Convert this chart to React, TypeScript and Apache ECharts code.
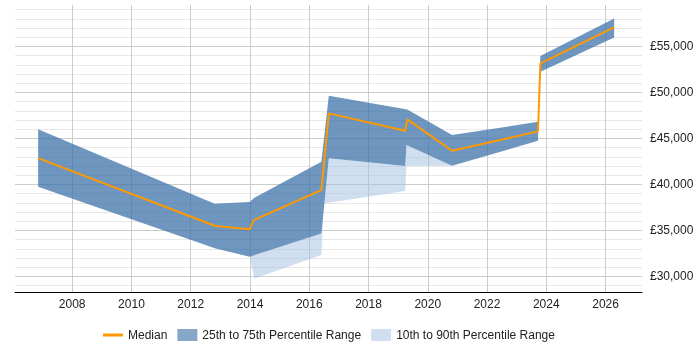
import React, { useEffect, useRef } from "react";
import * as echarts from "echarts";

// Median salary, [year, £]
const median: [number, number][] = [
  [2006.85, 42860],
  [2012.83, 35470],
  [2013.99, 35110],
  [2014.13, 36120],
  [2016.41, 39380],
  [2016.66, 47720],
  [2019.24, 45830],
  [2019.31, 47070],
  [2020.82, 43650],
  [2023.72, 45760],
  [2023.8, 53150],
  [2026.29, 57070],
];

// 75th percentile (upper edge of the dark band)
const p75: [number, number][] = [
  [2006.85, 45980],
  [2012.81, 37890],
  [2013.99, 38080],
  [2014.15, 38540],
  [2016.41, 42460],
  [2016.66, 49630],
  [2019.31, 48150],
  [2020.82, 45360],
  [2023.72, 46800],
  [2023.8, 53950],
  [2026.29, 58040],
];

// 25th percentile (lower edge of the dark band)
const p25: [number, number][] = [
  [2006.85, 39740],
  [2012.84, 33040],
  [2013.99, 32130],
  [2016.41, 34670],
  [2016.66, 42830],
  [2019.24, 41990],
  [2019.28, 44270],
  [2020.82, 42020],
  [2023.72, 44740],
  [2023.8, 52240],
  [2026.29, 55980],
];

// 10th percentile (lower edge of the light band)
const p10: [number, number][] = [
  [2006.85, 39740],
  [2012.84, 33040],
  [2013.99, 32130],
  [2014.15, 29780],
  [2016.41, 32320],
  [2016.49, 37930],
  [2019.24, 39290],
  [2019.28, 41990],
  [2020.82, 42020],
  [2023.72, 44740],
  [2023.8, 52240],
  [2026.29, 55980],
];

const xRange = [2006.07, 2027.23];
const yRange = [28300, 59500];

const FONT = "'Liberation Sans', Arial, sans-serif";
const DARK_FILL = "rgba(62,115,170,0.75)";
const LIGHT_FILL = "rgba(160,192,226,0.5)";
// thin horizontal bar inside a 20x12 box, used as the median's legend key
const LINE_ICON = "path://M0,0L0,0M0,4.5H20V7.5H0ZM20,12L20,12";

function formatPounds(v: number): string {
  return "£" + String(Math.round(v)).replace(/\B(?=(\d{3})+(?!\d))/g, ",");
}

function band(name: string, upper: [number, number][], lower: [number, number][], fill: string, legendColor: string, z: number) {
  return {
    name,
    type: "custom",
    xAxisIndex: 0,
    yAxisIndex: 1,
    z,
    itemStyle: { color: legendColor },
    data: [upper[0]],
    renderItem: (_params: any, api: any) => {
      const pts = [
        ...upper.map((p) => api.coord(p)),
        ...lower
          .slice()
          .reverse()
          .map((p) => api.coord(p)),
      ];
      return {
        type: "polygon",
        shape: { points: pts },
        style: { fill },
      };
    },
  };
}

export default function App() {
  const ref = useRef<HTMLDivElement>(null);

  useEffect(() => {
    if (!ref.current) return;
    const chart = echarts.init(ref.current, undefined, { renderer: "svg" });
    chart.setOption({
      animation: false,
      textStyle: { fontFamily: FONT },
      grid: { left: 15, right: 58, top: 5, bottom: 58, containLabel: false },
      legend: {
        top: 329,
        left: 103,
        padding: 0,
        itemWidth: 20,
        itemHeight: 12,
        itemGap: 10,
        textStyle: { fontSize: 12, color: "#222", fontFamily: FONT },
        data: [
          { name: "Median", icon: LINE_ICON, itemStyle: { color: "#ff9900", borderWidth: 0 } },
          { name: "25th to 75th Percentile Range", icon: "rect", itemStyle: { color: "#87a7c8" } },
          { name: "10th to 90th Percentile Range", icon: "rect", itemStyle: { color: "#cfdef0" } },
        ],
      },
      xAxis: {
        type: "value",
        min: xRange[0],
        max: xRange[1],
        minInterval: 2,
        maxInterval: 2,
        axisLine: { show: true, lineStyle: { color: "#000", width: 1 } },
        axisTick: { show: false },
        axisLabel: {
          margin: 6,
          fontSize: 12,
          color: "#222",
          fontFamily: FONT,
          showMinLabel: false,
          showMaxLabel: false,
          formatter: (v: number) => (Number.isInteger(v) ? String(v) : ""),
        },
        splitLine: { show: true, showMinLine: false, showMaxLine: false, lineStyle: { color: "#cccccc", width: 1 } },
      },
      yAxis: [
        {
          // fine 1,000 grid
          type: "value",
          position: "right",
          min: yRange[0],
          max: yRange[1],
          minInterval: 1000,
          maxInterval: 1000,
          axisLine: { show: false },
          axisTick: { show: false },
          axisLabel: { show: false },
          splitLine: { show: true, showMinLine: false, showMaxLine: false, lineStyle: { color: "#e8e8e8", width: 1 } },
        },
        {
          // labelled 5,000 grid
          type: "value",
          position: "right",
          min: yRange[0],
          max: yRange[1],
          minInterval: 5000,
          maxInterval: 5000,
          axisLine: { show: false },
          axisTick: { show: false },
          axisLabel: {
            margin: 8,
            fontSize: 12,
            color: "#222",
            fontFamily: FONT,
            showMinLabel: false,
            showMaxLabel: false,
            formatter: (v: number) => (v % 5000 === 0 ? formatPounds(v) : ""),
          },
          splitLine: { show: true, showMinLine: false, showMaxLine: false, lineStyle: { color: "#cccccc", width: 1 } },
        },
      ],
      series: [
        band("10th to 90th Percentile Range", p25, p10, LIGHT_FILL, "#cfdef0", 1),
        band("25th to 75th Percentile Range", p75, p25, DARK_FILL, "#87a7c8", 2),
        {
          name: "Median",
          type: "line",
          xAxisIndex: 0,
          yAxisIndex: 1,
          z: 3,
          data: median,
          symbol: "none",
          color: "#ff9900",
          lineStyle: { color: "#ff9900", width: 2 },
        },
      ],
    });
    return () => chart.dispose();
  }, []);

  return (
    <div
      ref={ref}
      style={{ position: "fixed", left: 0, top: 0, width: 700, height: 350 }}
    />
  );
}
